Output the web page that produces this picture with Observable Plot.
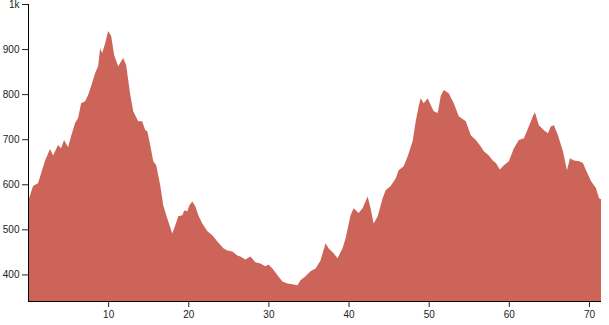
<!DOCTYPE html>
<html>
<head>
<meta charset="utf-8">
<script src="https://cdn.jsdelivr.net/npm/d3@7"></script>
<script src="https://cdn.jsdelivr.net/npm/@observablehq/plot@0.6"></script>
<style>
  body { margin: 0; background: #fff; }
  #chart svg { display: block; font-family: "Liberation Sans", Arial, sans-serif; }
</style>
</head>
<body>
<div id="chart"></div>
<script>
// distance along route (km)
const distance = [0, 0.63, 1.25, 1.63, 2.13, 2.75, 3.13, 3.75, 4.13, 4.5, 5, 5.38, 5.88, 6.25, 6.63, 7.13, 7.5, 7.88, 8.38, 8.75, 9, 9.25, 9.63, 10, 10.38, 10.75, 11.25, 11.88, 12.25, 12.75, 13.13, 13.75, 14.25, 14.63, 14.88, 15.25, 15.63, 16, 16.5, 16.88, 17.38, 18, 18.38, 18.75, 19.25, 19.5, 19.88, 20.13, 20.5, 20.88, 21.25, 21.75, 22.38, 23, 23.63, 24.38, 24.88, 25.5, 26.13, 26.5, 27.13, 27.75, 28.38, 29, 29.63, 30, 30.5, 31.13, 31.75, 32.38, 33, 33.63, 34, 34.63, 35.25, 35.88, 36.5, 37.13, 37.5, 38.13, 38.63, 39.25, 39.63, 40.25, 40.63, 41.25, 41.75, 42.38, 42.75, 43.13, 43.63, 44.25, 44.63, 45.25, 45.88, 46.25, 46.88, 47.38, 48, 48.38, 48.75, 49, 49.38, 49.88, 50.25, 50.63, 51.13, 51.5, 51.88, 52.5, 53.13, 53.75, 54.63, 55.25, 55.88, 56.5, 56.88, 57.5, 58, 58.38, 58.88, 59.38, 60, 60.63, 61.25, 61.88, 62.5, 63, 63.25, 63.75, 64.38, 64.88, 65.25, 65.63, 66.13, 66.75, 67.25, 67.63, 68.13, 68.75, 69.25, 69.63, 70.25, 70.88, 71.25, 71.5];
// elevation (m)
const elevation = [562, 596, 602, 624, 653, 678, 664, 687, 680, 698, 682, 707, 736, 747, 780, 784, 798, 818, 847, 862, 902, 891, 913, 940, 929, 887, 862, 880, 864, 800, 762, 740, 740, 720, 718, 687, 651, 642, 598, 553, 524, 491, 509, 529, 531, 542, 540, 553, 562, 551, 531, 513, 496, 487, 473, 458, 453, 451, 442, 440, 433, 440, 427, 424, 418, 422, 413, 398, 384, 380, 378, 376, 387, 396, 407, 413, 431, 469, 458, 447, 436, 458, 480, 531, 547, 536, 547, 573, 547, 513, 529, 569, 587, 596, 613, 631, 640, 662, 696, 740, 773, 791, 780, 791, 776, 762, 758, 796, 809, 802, 780, 751, 740, 709, 698, 684, 673, 664, 653, 647, 633, 642, 651, 680, 698, 702, 729, 751, 760, 731, 720, 713, 729, 731, 709, 673, 631, 658, 653, 651, 647, 631, 607, 591, 569, 567];
const yTicks = [400, 500, 600, 700, 800, 900, 1000];
const yTickLabels = ["400", "500", "600", "700", "800", "900", "1k"];
const xTicks = [10, 20, 30, 40, 50, 60, 70];

const data = distance.map((d, i) => ({distance: d, elevation: elevation[i]}));
const yMin = 341, yMax = 1000;

const chart = Plot.plot({
  width: 609,
  height: 325,
  marginTop: 4,
  marginLeft: 28,
  marginRight: 8,
  marginBottom: 24,
  style: {fontSize: "10px", fontFamily: "'Liberation Sans', Arial, sans-serif", background: "#fff", color: "#222"},
  x: {domain: [0, 71.5]},
  y: {domain: [yMin, yMax]},
  marks: [
    Plot.areaY(data, {x: "distance", y1: yMin, y2: "elevation", fill: "#cd645a", clip: true}),
    Plot.axisX({ticks: xTicks, label: null, tickSize: 6}),
    Plot.axisY({ticks: yTicks, tickFormat: d => yTickLabels[yTicks.indexOf(d)], label: null, tickSize: 6}),
    Plot.ruleY([yMin], {stroke: "#000"}),
    Plot.ruleX([0], {y1: yMin, y2: yMax, stroke: "#000"})
  ]
});
document.getElementById("chart").appendChild(chart);
</script>
</body>
</html>
